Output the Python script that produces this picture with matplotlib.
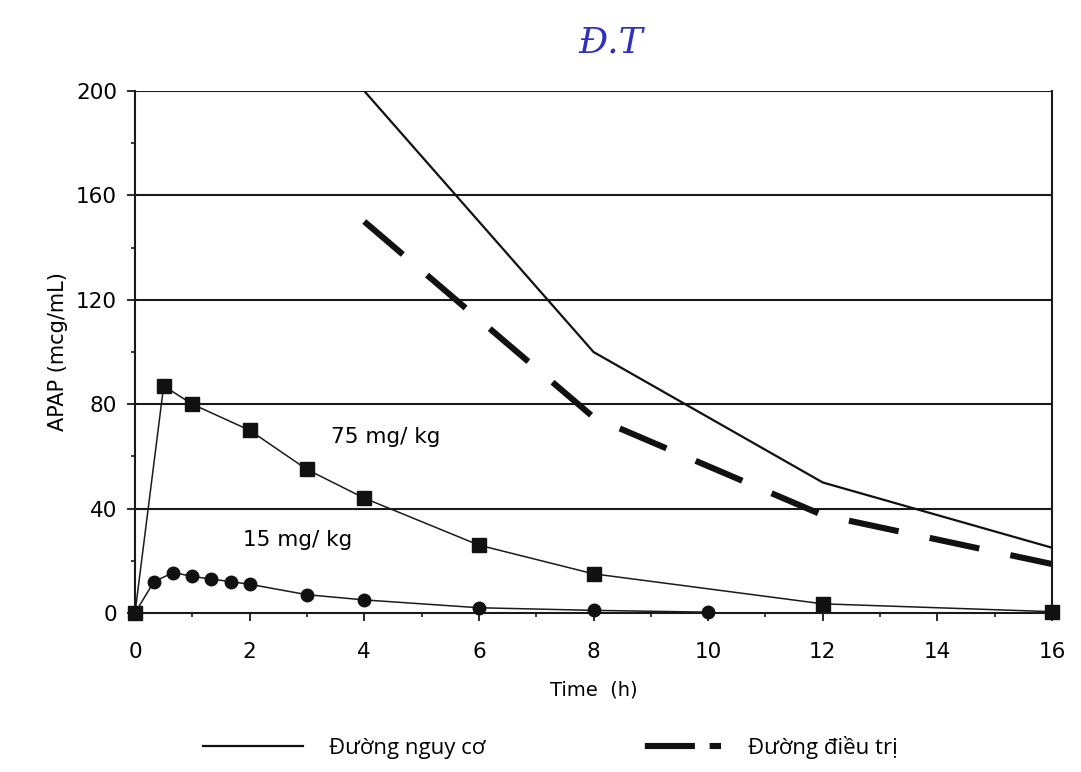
import matplotlib
matplotlib.use('Agg')
from matplotlib import pyplot as plt
from matplotlib.lines import Line2D
from matplotlib.ticker import MultipleLocator

# 75 mg/kg dose (squares)
t_75 = [0, 0.5, 1, 2, 3, 4, 6, 8, 12, 16]
c_75 = [0, 87, 80, 70, 55, 44, 26, 15, 3.5, 0.5]

# 15 mg/kg dose (circles)
t_15 = [0, 0.33, 0.67, 1, 1.33, 1.67, 2, 3, 4, 6, 8, 10]
c_15 = [0, 12, 15.5, 14, 13, 12, 11, 7, 5, 2, 1, 0.3]

# risk line / treatment line
t_line = [4, 8, 12, 16]
risk = [200, 100, 50, 25]
treat = [150, 75, 37.5, 18.75]

yticks = [0, 40, 80, 120, 160, 200]
xticks = [0, 2, 4, 6, 8, 10, 12, 14, 16]

plt.rcParams['font.family'] = ['DejaVu Sans']
ink = '#1a1a1a'

fig = plt.figure(figsize=(10.81, 7.72), dpi=100)
ax = fig.add_axes([0.1249, 0.2060, 0.8483, 0.6761])

for y in yticks[1:]:
    ax.axhline(y, color=ink, lw=1.5, zorder=1)

ax.plot(t_75, c_75, color=ink, lw=1.1, marker='s', ms=9.5,
        mfc='#111111', mec='#111111', zorder=3, clip_on=False)
ax.plot(t_15, c_15, color=ink, lw=1.1, marker='o', ms=9,
        mfc='#111111', mec='#111111', zorder=3, clip_on=False)
ax.plot(t_line, risk, color='#111111', lw=1.6, zorder=2)
ax.plot(t_line, treat, color='#111111', lw=4.4, zorder=2, dashes=(8.3, 5.2))

ax.text(4.38, 67.5, '75 mg/ kg', ha='center', va='center', fontsize=15.5)
ax.text(2.83, 28, '15 mg/ kg', ha='center', va='center', fontsize=15.5)

ax.set_xlim(0, 16)
ax.set_ylim(0, 200)
ax.set_xticks(xticks)
ax.set_yticks(yticks)
ax.xaxis.set_minor_locator(MultipleLocator(1))
ax.yaxis.set_minor_locator(MultipleLocator(20))
ax.tick_params(which='major', length=6, width=1.3, labelsize=15.5, color=ink)
ax.tick_params(axis='y', which='major', pad=7)
ax.tick_params(axis='x', which='major', pad=15)
ax.tick_params(which='minor', length=3, width=1.2, color=ink)
for s in ax.spines.values():
    s.set_linewidth(1.5)
    s.set_color(ink)
ax.spines['top'].set_visible(False)

ax.set_xlabel('Time  (h)', fontsize=14, labelpad=13)
ax.set_ylabel('APAP (mcg/mL)', fontsize=15, labelpad=6)

# legend beneath the plot (proxy handles)
h1 = Line2D([], [], color='#111111', lw=1.6)
h2 = Line2D([], [], color='#111111', lw=4.4,
            linestyle=(12.6, (8.2, 2.4, 2.0, 3.9)))
fig.legend(handles=[h1, h2], labels=['Đường nguy cơ', 'Đường điều trị'],
           loc='center', bbox_to_anchor=(0.509, 0.032), ncol=2, frameon=False,
           handlelength=4.5, columnspacing=6.1, handletextpad=1.2,
           prop={'family': 'Open Sans', 'size': 16})

# handwritten mark at the top
fig.text(0.565, 0.945, 'Đ.T', color='#3030c0', fontsize=26, style='italic',
         family='DejaVu Serif', ha='center', va='center')

fig.savefig('out.png', dpi=100)
